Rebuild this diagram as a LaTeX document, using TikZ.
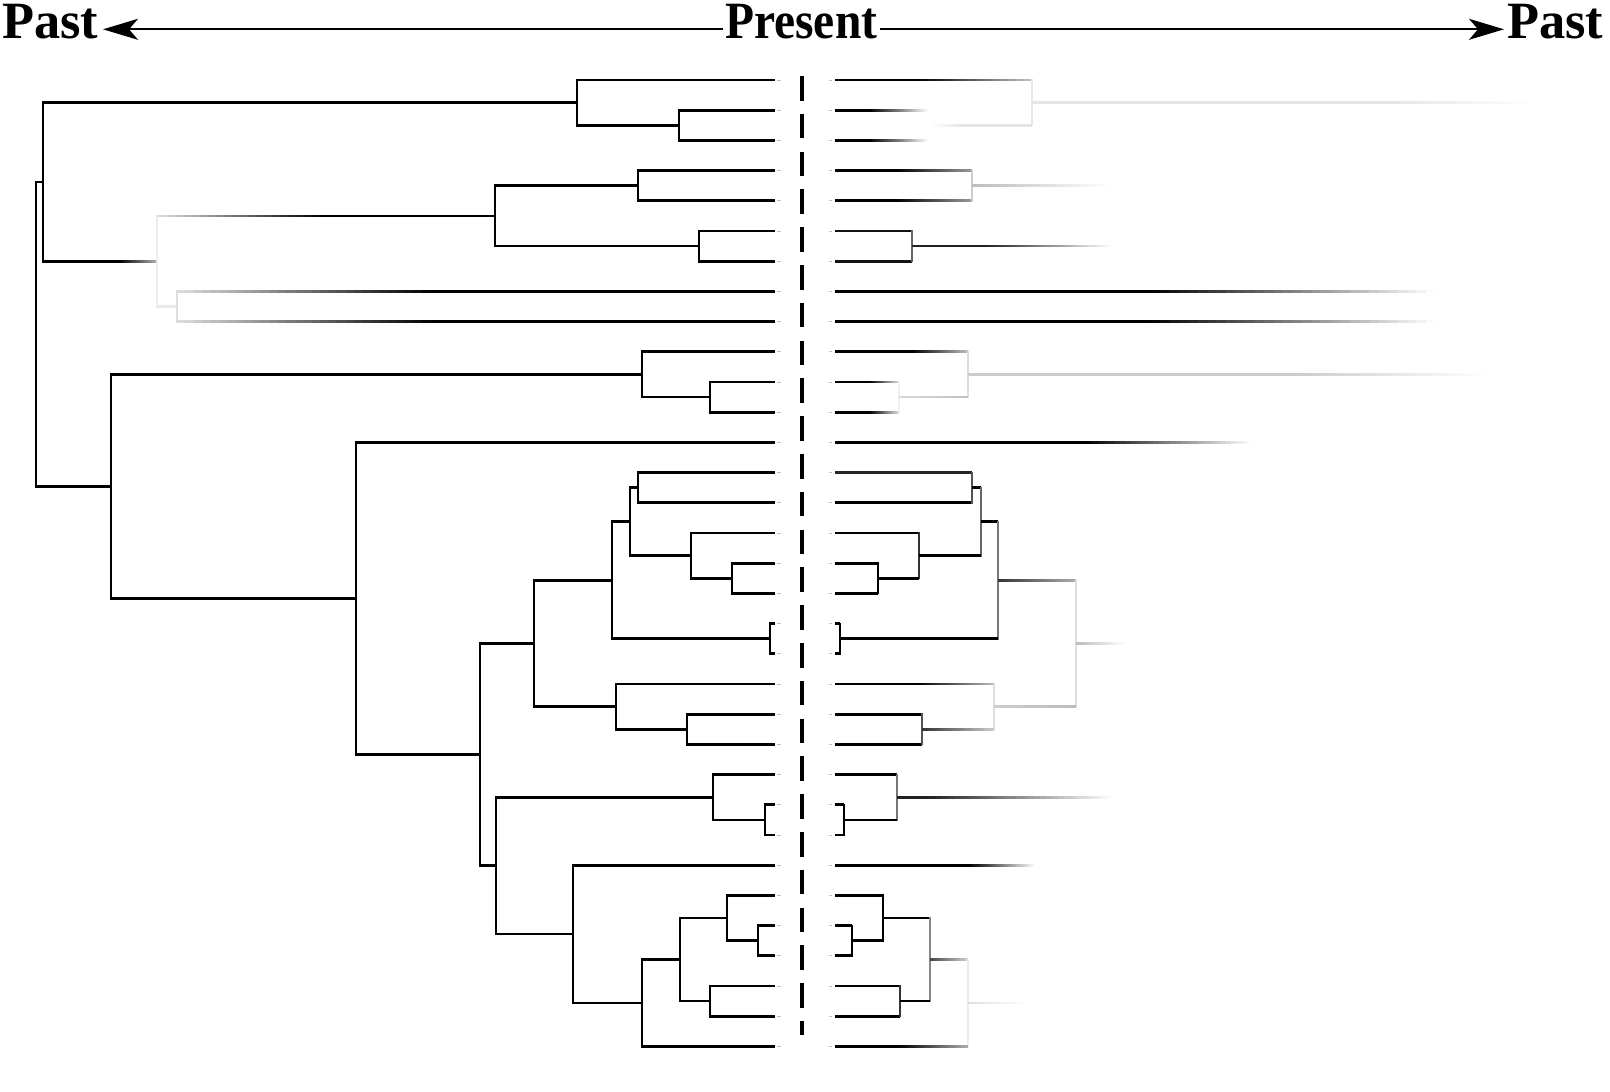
\documentclass[tikz,border=0pt]{standalone}
\usepackage{fontspec}
\setmainfont{Liberation Serif}
\usetikzlibrary{arrows.meta}
% solid horizontal bar: y, x1, x2, colour
\newcommand\hseg[4]{\fill[#4] (#2,#1-1.35) rectangle (#3,#1+1.35);}
% fading horizontal bar: y, x1, x2, black level at x1, black level at x2 (percent)
\newcommand\hgrd[5]{%
  \foreach \k in {0,...,29}{%
    \pgfmathsetmacro\xa{#2+(#3-#2)*\k/30}%
    \pgfmathsetmacro\xb{#2+(#3-#2)*(\k+1)/30+0.4}%
    \pgfmathtruncatemacro\lv{#4+(#5-#4)*(\k+0.5)/30}%
    \fill[black!\lv] (\xa,#1-1.35) rectangle (\xb,#1+1.35);
  }}
% vertical bar: x, y1, y2, colour
\newcommand\vseg[4]{\draw[#4,line width=2pt,line cap=rect] (#1,#2) -- (#1,#3);}
\begin{document}
\begin{tikzpicture}[x=1pt,y=-1pt,
  vbr/.style={line width=2pt,line cap=rect},
  hbr/.style={line width=2.7pt,line cap=butt},
  title/.style={anchor=base west,inner sep=0pt},
  axisline/.style={line width=2pt,-{Stealth[length=35pt,width=21pt,inset=9pt]}},
  tick/.style={black!25,line width=1pt}]
\useasboundingbox (0,0) rectangle (1610,1092);

% ---------- title and time axis ----------
\node[title] (pastL) at (2,38.3) {\resizebox{96pt}{34.3pt}{\bfseries Past}};
\node[title] (present) at (725,38.3) {\resizebox{152pt}{34.3pt}{\bfseries Present}};
\node[title] (pastR) at (1507,38.3) {\resizebox{96pt}{34.3pt}{\bfseries Past}};
\coordinate (tipL) at (103,29.3);
\coordinate (tipR) at (1504,29.3);
\draw[axisline] ([xshift=-2pt]present.west |- tipL) -- (tipL);
\draw[axisline] ([xshift=3pt]present.east |- tipR) -- (tipR);

% ---------- present line ----------
\coordinate (dtop) at (802,76);
\coordinate (dbot) at (802,1035);
\draw[line width=4pt,dash pattern=on 24.5pt off 13.3pt] (dtop) -- (dbot);

% ---------- leaves ----------
\foreach \i in {0,...,32}{
  \coordinate (L\i) at (775,{80+30.2*\i});
  \coordinate (R\i) at (835,{80+30.2*\i});
  \draw[tick] (777,{80+30.2*\i}) -- (781,{80+30.2*\i});
  \draw[tick] (829,{80+30.2*\i}) -- (832,{80+30.2*\i});
}

% ---------- left tree ----------
\coordinate (root) at (35.5,334.2);
\coordinate (A) at (42.7,181.9);
\coordinate (A1) at (577,102.65);
\coordinate (A1b) at (679,125.3);
\coordinate (A2) at (156.7,261.2);
\coordinate (A2a) at (495,215.9);
\coordinate (A2a1) at (638,185.7);
\coordinate (A2a2) at (698.6,246.1);
\coordinate (A2b) at (176.7,306.5);
\coordinate (B) at (111.4,486.5);
\coordinate (B1) at (642,374.45);
\coordinate (B1b) at (710,397.1);
\coordinate (C) at (355.6,598.5);
\coordinate (D) at (480,754.5);
\coordinate (D1) at (533.5,643.4);
\coordinate (D1a) at (612,580.2);
\coordinate (D1a1) at (630,521.7);
\coordinate (D1a1a) at (638,487.7);
\coordinate (D1a1b) at (691,555.65);
\coordinate (D1a1b2) at (732,578.3);
\coordinate (D1a2) at (770,638.7);
\coordinate (D1b) at (616,706.65);
\coordinate (D1b2) at (687.3,729.3);
\coordinate (E) at (496,865.7);
\coordinate (E1) at (712.7,797.25);
\coordinate (E1b) at (765.3,819.9);
\coordinate (E2) at (573.3,934.1);
\coordinate (E2b) at (642.3,1003);
\coordinate (E2b1) at (680,959.6);
\coordinate (E2b1a) at (726.7,918.05);
\coordinate (E2b1a2) at (758.3,940.7);
\coordinate (E2b1b) at (710,1001.1);

\foreach \p/\c in {root/A,root/B,A/A1,A1/L0,A1/A1b,A1b/L1,A1b/L2,
  A2a/A2a1,A2a/A2a2,A2a1/L3,A2a1/L4,A2a2/L5,A2a2/L6,
  B/B1,B/C,B1/L9,B1/B1b,B1b/L10,B1b/L11,C/L12,C/D,D/D1,D/E,
  D1/D1a,D1/D1b,D1a/D1a1,D1a/D1a2,D1a1/D1a1a,D1a1/D1a1b,
  D1a1a/L13,D1a1a/L14,D1a1b/L15,D1a1b/D1a1b2,D1a1b2/L16,D1a1b2/L17,
  D1a2/L18,D1a2/L19,D1b/L20,D1b/D1b2,D1b2/L21,D1b2/L22,
  E/E1,E/E2,E1/L23,E1/E1b,E1b/L24,E1b/L25,E2/L26,E2/E2b,
  E2b/E2b1,E2b/L32,E2b1/E2b1a,E2b1/E2b1b,E2b1a/L27,E2b1a/E2b1a2,
  E2b1a2/L28,E2b1a2/L29,E2b1b/L30,E2b1b/L31}{
  \draw[vbr] (\p) -- (\p |- \c);
  \draw[hbr] ([xshift=-1pt]\p |- \c) -- (\c);
}

% faded deep branch on the left
\draw[vbr] (A) -- (A |- A2);
\hseg{261.2}{41.7}{120}{black}
\hgrd{261.2}{120}{156.7}{100}{33}
\vseg{156.7}{215.9}{306.5}{black!7}
\hgrd{215.9}{156.7}{320}{13}{100}
\hseg{215.9}{320}{495}{black}
\hseg{306.5}{156.7}{176.7}{black!9}
\vseg{176.7}{291.4}{321.6}{black!13}
\hgrd{291.4}{176.7}{430}{13}{100}
\hseg{291.4}{430}{775}{black}
\hgrd{321.6}{176.7}{430}{13}{100}
\hseg{321.6}{430}{775}{black}

% ---------- right tree (fading into the past) ----------
% leaves 0-2
\hseg{80}{835}{920}{black}
\hgrd{80}{920}{1031.7}{100}{25}
\vseg{1031.7}{80}{125.3}{black!9}
\hgrd{125.3}{929.3}{960}{0}{10}
\hseg{125.3}{960}{1031.7}{black!10}
\hseg{102.65}{1031.7}{1400}{black!10}
\hgrd{102.65}{1400}{1540}{10}{0}
\hseg{110.2}{835}{870}{black}
\hgrd{110.2}{870}{929.3}{100}{0}
\hseg{140.4}{835}{870}{black}
\hgrd{140.4}{870}{929.3}{100}{0}
% leaves 3-6
\hseg{170.6}{835}{897}{black}
\hgrd{170.6}{897}{971.7}{100}{40}
\hseg{200.8}{835}{897}{black}
\hgrd{200.8}{897}{971.7}{100}{40}
\vseg{971.7}{170.6}{200.8}{black!20}
\hgrd{185.7}{971.7}{1111.7}{27}{0}
\hseg{231}{835}{911.7}{black!93}
\hseg{261.2}{835}{911.7}{black!93}
\vseg{911.7}{231}{261.2}{black!60}
\hseg{246.1}{911.7}{987}{black!87}
\hgrd{246.1}{987}{1113}{87}{0}
% leaves 7-8
\hseg{291.4}{835}{1150}{black}
\hgrd{291.4}{1150}{1435}{100}{0}
\hseg{321.6}{835}{1150}{black}
\hgrd{321.6}{1150}{1435}{100}{0}
% leaves 9-11
\hseg{351.8}{835}{913}{black}
\hgrd{351.8}{913}{967.7}{100}{27}
\vseg{967.7}{351.8}{397.1}{black!13}
\hseg{374.45}{967.7}{1300}{black!20}
\hgrd{374.45}{1300}{1490}{20}{0}
\hseg{382}{835}{870}{black}
\hgrd{382}{870}{899}{100}{15}
\hseg{412.2}{835}{870}{black}
\hgrd{412.2}{870}{899}{100}{15}
\vseg{899}{382}{412.2}{black!6}
\hgrd{397.1}{899}{967.7}{15}{25}
% leaf 12
\hseg{442.4}{835}{1087}{black}
\hgrd{442.4}{1087}{1253}{100}{0}
% leaves 13-19
\hseg{472.6}{835}{972.3}{black!85}
\hseg{502.8}{835}{972.3}{black}
\vseg{972.3}{472.6}{502.8}{black!67}
\hseg{487.7}{972.3}{980.7}{black}
\vseg{980.7}{487.7}{555.65}{black!60}
\hseg{533}{835}{919}{black}
\vseg{919}{533}{578.3}{black!80}
\hseg{563.2}{835}{877.7}{black}
\hseg{593.4}{835}{877.7}{black}
\vseg{877.7}{563.2}{593.4}{black}
\hseg{578.3}{877.7}{919}{black}
\hseg{555.65}{919}{980.7}{black}
\hseg{521.7}{980.7}{997.7}{black}
\vseg{997.7}{521.7}{638.7}{black!53}
\hseg{623.6}{835}{840}{black}
\hseg{653.8}{835}{840}{black}
\vseg{840}{623.6}{653.8}{black}
\hseg{638.7}{840}{997.7}{black}
\hgrd{580.2}{997.7}{1076}{80}{33}
\vseg{1076}{580.2}{706.65}{black!13}
\hgrd{643.4}{1076}{1128}{27}{0}
% leaves 20-22
\hseg{684}{835}{920}{black}
\hgrd{684}{920}{994}{100}{27}
\vseg{994}{684}{729.3}{black!13}
\hgrd{706.65}{994}{1076}{20}{27}
\hseg{714.2}{835}{922.3}{black}
\hseg{744.4}{835}{922.3}{black}
\vseg{922.3}{714.2}{744.4}{black!67}
\hgrd{729.3}{922.3}{994}{80}{20}
% leaves 23-25
\hseg{774.6}{835}{897.3}{black}
\vseg{897.3}{774.6}{819.9}{black!53}
\hseg{804.8}{835}{844.3}{black}
\hseg{835}{835}{844.3}{black}
\vseg{844.3}{804.8}{835}{black}
\hseg{819.9}{844.3}{897.3}{black}
\hseg{797.25}{897.3}{930}{black!87}
\hgrd{797.25}{930}{1113.3}{87}{0}
% leaves 26-32
\hseg{865.2}{835}{970}{black}
\hgrd{865.2}{970}{1035.7}{100}{0}
\hseg{895.4}{835}{883.3}{black}
\vseg{883.3}{895.4}{940.7}{black}
\hseg{925.6}{835}{852}{black}
\hseg{955.8}{835}{852}{black}
\vseg{852}{925.6}{955.8}{black}
\hseg{940.7}{852}{883.3}{black}
\hseg{918.05}{883.3}{930}{black}
\vseg{930}{918.05}{1001.1}{black!47}
\hseg{986}{835}{900}{black}
\hseg{1016.2}{835}{900}{black}
\vseg{900}{986}{1016.2}{black!80}
\hseg{1001.1}{900}{930}{black}
\hgrd{959.6}{930}{967.7}{73}{20}
\vseg{967.7}{959.6}{1046.4}{black!7}
\hseg{1046.4}{835}{900}{black}
\hgrd{1046.4}{900}{967.7}{100}{33}
\hgrd{1003}{967.7}{1031.7}{13}{0}
\end{tikzpicture}
\end{document}
